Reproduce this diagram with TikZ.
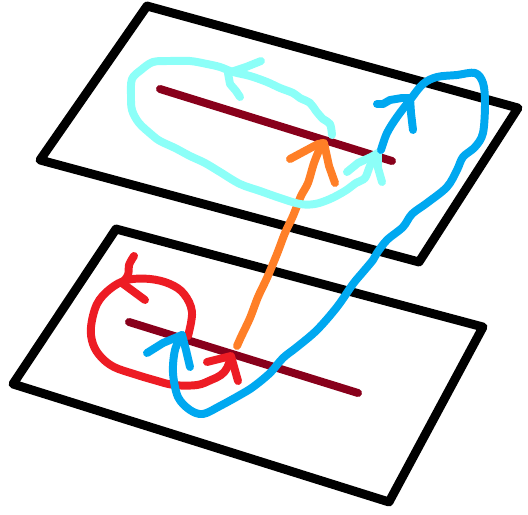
\documentclass[tikz,border=0pt]{standalone}
\usetikzlibrary{calc}
\definecolor{pen}{RGB}{0,0,0}
\definecolor{maroon}{RGB}{136,0,27}
\definecolor{redpen}{RGB}{237,28,36}
\definecolor{orangepen}{RGB}{255,127,39}
\definecolor{cyanpen}{RGB}{140,255,248}
\definecolor{bluepen}{RGB}{0,168,240}
\tikzset{
  stroke/.style={line cap=round,line join=round,line width=6.8pt},
  planeline/.style={stroke,draw=pen,line width=7.6pt},
  axisline/.style={stroke,draw=maroon},
  redline/.style={stroke,draw=redpen},
  orangeline/.style={stroke,draw=orangepen},
  cyanline/.style={stroke,draw=cyanpen},
  blueline/.style={stroke,draw=bluepen},
}
\begin{document}
\begin{tikzpicture}[x=0.03cm,y=-0.03cm]
\useasboundingbox (0,0) rectangle (528,515);
% planes
\coordinate (tA) at (147,6);
\coordinate (tB) at (518,108);
\coordinate (tC) at (419,262);
\coordinate (tD) at (40,160);
\draw[planeline] (tA) -- (tB) -- (tC) -- (tD) -- cycle;
\coordinate (bA) at (116,229);
\coordinate (bB) at (483,327);
\coordinate (bC) at (389,502);
\coordinate (bD) at (13,384);
\draw[planeline] (bA) -- (bB) -- (bC) -- (bD) -- cycle;
% dark red lines
\coordinate (tL) at (160,89);
\coordinate (tR) at (392,161);
\draw[axisline] (tL) -- (tR);
\coordinate (bL) at (129,322);
\coordinate (bR) at (358,393);
\draw[axisline] (bL) -- (bR);
% red loop
\draw[redline] plot[smooth,tension=0.6] coordinates {(188,336) (192,312) (184,294) (170,284) (150,279) (127,280) (110,289) (97,304) (91,327) (93,344) (101,357) (114,367) (134,374) (154,380) (174,385) (197,385) (211,380) (221,375) (227,368) (231,357)};
\draw[redline] (207,362) -- (231,356) -- (238,381);
\draw[redline] plot[smooth,tension=0.6] coordinates {(134,256) (129,265) (128,275) (122,283)};
\draw[redline] (122,283) -- (145,300);
% orange arrow
\draw[orangeline] plot[smooth,tension=0.5] coordinates {(237,346) (241,337) (250,318) (258,297) (267,278) (277,254) (285,233) (293,216) (301,196) (308,183) (314,163) (322,143)};
\draw[orangeline] (290,159) -- (318,144) -- (324,143) -- (329,166) -- (335,183);
% cyan loop
\draw[cyanline] plot[smooth,tension=0.55] coordinates {(332,135) (330,124) (323,119) (316,111) (310,103) (300,98) (293,93) (280,88) (267,82) (250,76) (233,72) (220,67) (207,64) (190,61) (170,61) (153,62) (141,70) (132,79) (131,95) (132,110) (139,123) (152,135) (160,141) (175,148) (190,156) (205,163) (220,172) (240,184) (260,191) (280,198) (300,204) (315,204) (330,199) (345,191) (356,183) (365,178) (370,166) (378,153)};
\draw[cyanline] (347,172) -- (358,163) -- (371,157) -- (378,153) -- (378,168) -- (382,182);
\draw[cyanline] (261,61) -- (246,67) -- (228,73) -- (230,84) -- (236,91) -- (240,97);
% blue loop
\draw[blueline] plot[smooth,tension=0.55] coordinates {(381,150) (387,133) (397,117) (410,100) (423,84) (437,77) (457,75) (475,73) (483,83) (485,103) (483,133) (475,147) (463,157) (457,170) (447,187) (427,203) (412,214) (403,227) (387,240) (377,253) (373,260) (363,272) (353,284) (337,307) (317,330) (297,347) (283,358) (270,373) (253,387) (240,395) (220,406) (203,414) (190,410) (178,397) (173,373) (175,350) (182,335)};
\draw[blueline] (147,353) -- (155,348) -- (163,343) -- (182,335) -- (186,350) -- (190,367);
\draw[blueline] (377,104) -- (383,104) -- (390,100) -- (402,98) -- (410,98) -- (411,113) -- (413,130);
\end{tikzpicture}
\end{document}
